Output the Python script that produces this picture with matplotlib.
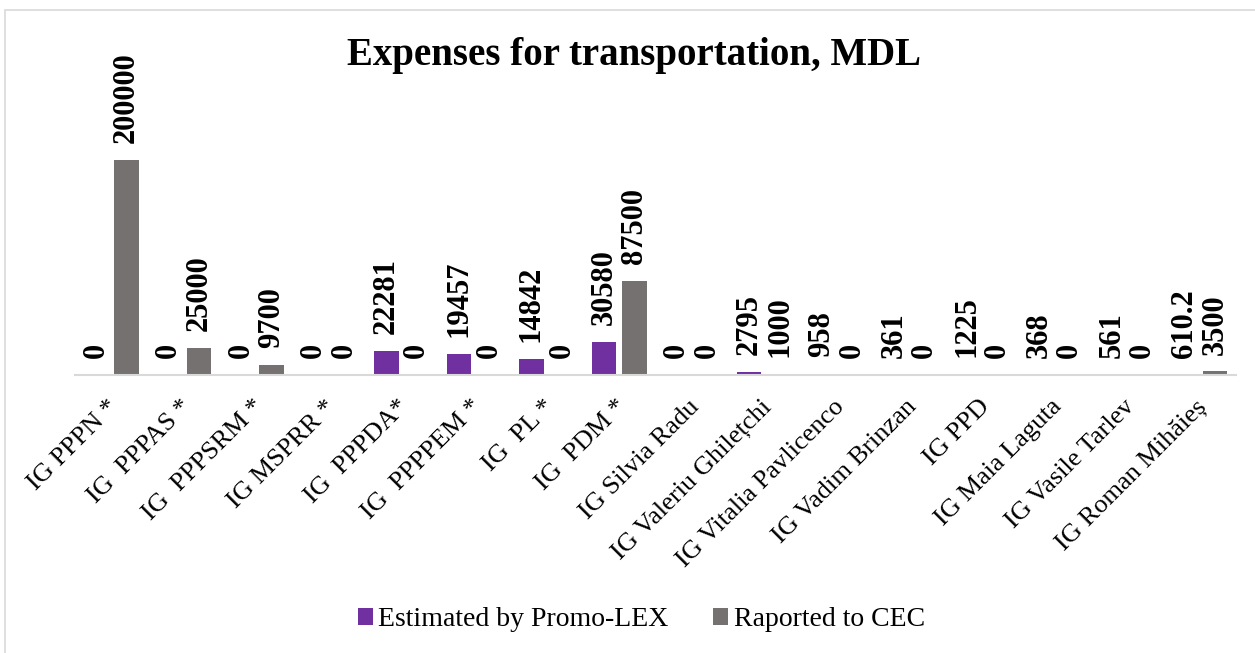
import numpy as np
import matplotlib.pyplot as plt
import matplotlib.transforms as mtransforms
from matplotlib.patches import Rectangle

# chart data
categories = ['IG PPPN *', 'IG  PPPAS *', 'IG  PPPSRM *', 'IG MSPRR *', 'IG  PPPDA*',
              'IG  PPPPEM *', 'IG  PL *', 'IG  PDM *', 'IG Silvia Radu',
              'IG Valeriu Ghilețchi', 'IG Vitalia Pavlicenco', 'IG Vadim Brinzan',
              'IG PPD', 'IG Maia Laguta', 'IG Vasile Tarlev', 'IG Roman Mihăieș']
estimated = [0, 0, 0, 0, 22281, 19457, 14842, 30580, 0, 2795, 958, 361, 1225, 368, 561, 610.2]
reported = [200000, 25000, 9700, 0, 0, 0, 0, 87500, 0, 1000, 0, 0, 0, 0, 0, 3500]
series_names = ['Estimated by Promo-LEX', 'Raported to CEC']

PURPLE = '#7030A0'
GRAY = '#767171'
plt.rcParams['font.family'] = ['Liberation Serif', 'DejaVu Serif']

fig = plt.figure(figsize=(12.55, 6.53), dpi=100)
# light frame around the chart
fig.patches.append(Rectangle((4.5 / 1255, -0.05), 1.1, 1.05 - 10 / 653,
                             transform=fig.transFigure, fill=False,
                             edgecolor='#D9D9D9', linewidth=1.2))

ax = fig.add_axes([75 / 1255, 1 - 375 / 653, 1161 / 1255, 315 / 653])
x = np.arange(len(categories))
w = 0.337
off = 0.21
b1 = ax.bar(x - off, estimated, w, color=PURPLE, label=series_names[0])
b2 = ax.bar(x + off, reported, w, color=GRAY, label=series_names[1])

def fmt(v):
    return f'{v:g}'

for bars, vals in ((b1, estimated), (b2, reported)):
    for bar, v in zip(bars, vals):
        ax.annotate(fmt(v), (bar.get_x() + bar.get_width() / 2, bar.get_height()),
                    xytext=(0, 12), textcoords='offset points', rotation=90,
                    ha='center', va='bottom', fontsize=22, fontweight='bold')

ax.set_xlim(-0.5, len(categories) - 0.5)
ax.set_ylim(0, 200000 * 315 / 215)
ax.set_yticks([])
ax.set_xticks(x)
ax.set_xticklabels(categories, rotation=45, ha='right', va='top',
                   rotation_mode='anchor', fontsize=19)
ax.tick_params(axis='x', length=0, pad=15)
shift = mtransforms.ScaledTranslation(-4 / 100, 0, fig.dpi_scale_trans)
for lab in ax.get_xticklabels():
    lab.set_transform(lab.get_transform() + shift)
for s in ('top', 'right', 'left'):
    ax.spines[s].set_visible(False)
ax.spines['bottom'].set_color('#D9D9D9')
ax.spines['bottom'].set_linewidth(1.5)

fig.text(0.505, 1 - 55 / 653, 'Expenses for transportation, MDL', ha='center',
         va='center', fontsize=28, fontweight='bold')

fig.legend(loc='center', bbox_to_anchor=(0.511, 1 - 620 / 653), ncol=2, frameon=False,
           fontsize=20, handlelength=0.54, handleheight=0.54, handletextpad=0.2,
           columnspacing=1.6)

fig.savefig('out.png', dpi=100)
